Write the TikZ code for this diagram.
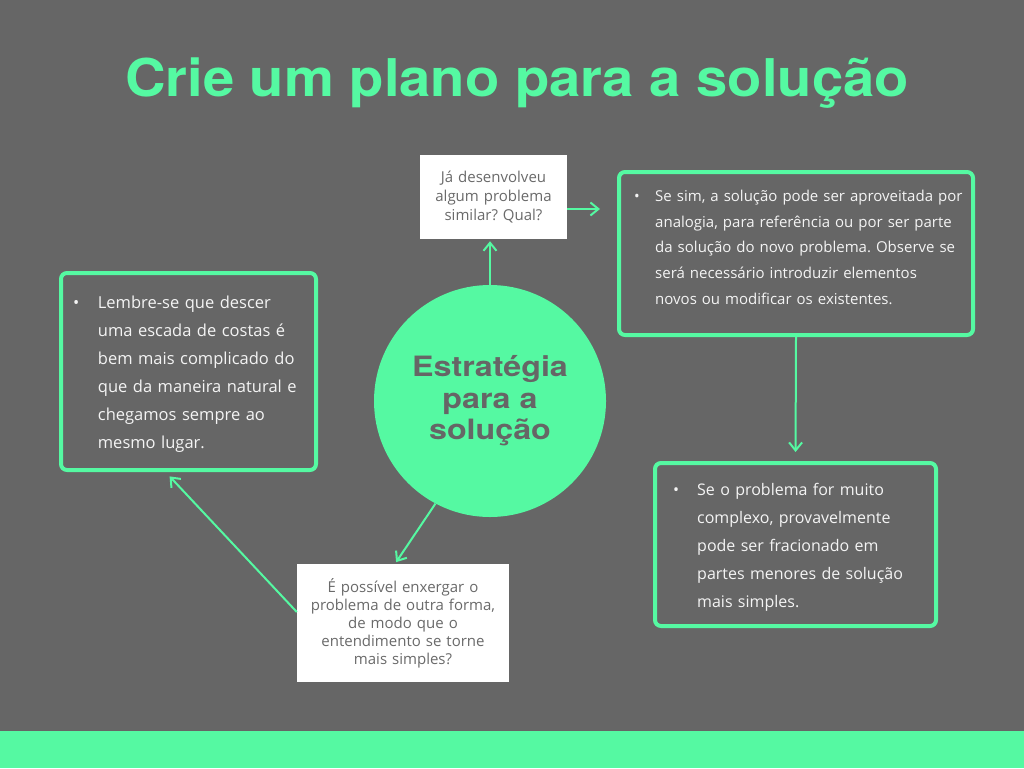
\documentclass[tikz,border=0pt]{standalone}
\usepackage{fontspec}
\setmainfont{Open Sans}
\newfontfamily\titlefont{TeX Gyre Heros}[FakeStretch=1.08]
\newfontfamily\circfont{TeX Gyre Heros}[FakeStretch=1.15]
\usetikzlibrary{arrows.meta,calc}
\definecolor{bg}{HTML}{666666}
\definecolor{grn}{HTML}{55F9A2}
\definecolor{qtxt}{HTML}{6A6A6A}
\definecolor{btxt}{HTML}{F4F4F4}
\frenchspacing
\begin{document}
\begin{tikzpicture}[x=1pt,y=-1pt,
  greenbox/.style={draw=grn,line width=4pt,rounded corners=6pt,fill=bg,inner sep=0pt},
  whitebox/.style={fill=white,inner sep=0pt,align=center,text=qtxt,draw=none},
  bodytext/.style={text=btxt,inner sep=0pt,anchor=base west,align=left},
  conn/.style={draw=grn,line width=2pt,-{Straight Barb[length=8pt,width=13pt,line width=2pt]}}]
\useasboundingbox (0,0) rectangle (1024,768);
\fill[bg] (0,0) rectangle (1024,768);
\fill[grn] (0,731) rectangle (1024,768);

% title
\node[text=grn,inner sep=0pt,anchor=base] (title) at (517,96.7)
  {\titlefont\bfseries\fontsize{52}{56}\selectfont Crie um plano para a solução};

% central circle
\node[circle,fill=grn,minimum size=232pt,inner sep=0pt,align=center,text=bg,
      font={\circfont\bfseries\fontsize{28}{31.5}\selectfont}] (circ) at (490,401)
  {Estratégia\\para a\\solução};

% question boxes
\node[whitebox,minimum width=147pt,minimum height=84pt,text width=140pt,
      font={\fontsize{15}{19}\selectfont}] (topq) at (493.5,197)
  {Já desenvolveu\\algum problema\\similar? Qual?};
\node[whitebox,minimum width=212pt,minimum height=118pt,text width=204pt,
      font={\fontsize{15}{18}\selectfont}] (botq) at (403,623)
  {É possível enxergar o\\problema de outra forma,\\de modo que o\\entendimento se torne\\mais simples?};

% green boxes
\node[greenbox,minimum width=255pt,minimum height=197pt] (lb) at (188.5,371.5) {};
\node[bodytext,text width=240pt,font={\fontsize{16.5}{28}\selectfont}] (lbt) at (73,308)
  {\makebox[24.7pt][l]{\textbullet}Lembre-se que descer\\
   \hspace*{24.7pt}uma escada de costas é\\
   \hspace*{24.7pt}bem mais complicado do\\
   \hspace*{24.7pt}que da maneira natural e\\
   \hspace*{24.7pt}chegamos sempre ao\\
   \hspace*{24.7pt}mesmo lugar.};

\node[greenbox,minimum width=354pt,minimum height=163pt] (rt) at (796,253.5) {};
\node[bodytext,text width=335pt,font={\fontsize{15}{25.6}\selectfont}] (rtt) at (634,201.7)
  {\makebox[21pt][l]{\textbullet}Se sim, a solução pode ser aproveitada por\\
   \hspace*{21pt}analogia, para referência ou por ser parte\\
   \hspace*{21pt}da solução do novo problema. Observe se\\
   \hspace*{21pt}será necessário introduzir elementos\\
   \hspace*{21pt}novos ou modificar os existentes.};

\node[greenbox,minimum width=281pt,minimum height=163pt] (rb) at (795.5,544.5) {};
\node[bodytext,text width=260pt,font={\fontsize{16}{28}\selectfont}] (rbt) at (673,495)
  {\makebox[24pt][l]{\textbullet}Se o problema for muito\\
   \hspace*{24pt}complexo, provavelmente\\
   \hspace*{24pt}pode ser fracionado em\\
   \hspace*{24pt}partes menores de solução\\
   \hspace*{24pt}mais simples.};

% connectors
\coordinate (rtin) at (600,209);
\draw[conn,shorten >=2pt] (circ.north) -- (circ.north |- topq.south);
\draw[conn] ([yshift=-12pt]topq.east) -- (rtin);
\draw[conn,shorten >=9pt] (rt.south) -- (rb.north);
\draw[conn,shorten >=2pt] (circ.-118) -- ([xshift=-8pt]botq.north);
\draw[conn,shorten >=6pt] ([yshift=11pt]botq.west) -- ([xshift=-23pt]lb.south);
\end{tikzpicture}
\end{document}
